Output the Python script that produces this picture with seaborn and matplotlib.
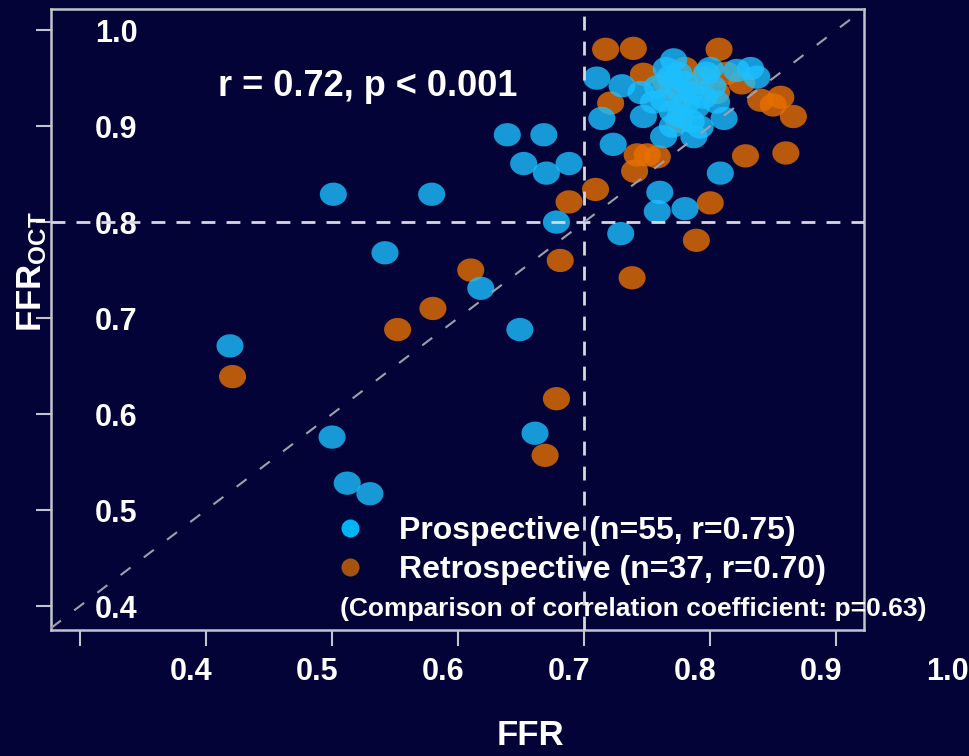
import numpy as np
import pandas as pd
import matplotlib
matplotlib.use("Agg")
import matplotlib.pyplot as plt
import seaborn as sns
from matplotlib.lines import Line2D
from matplotlib.path import Path
from matplotlib.transforms import ScaledTranslation

# ---------------- data ----------------
pro_ffr = [0.519, 0.600, 0.612, 0.630, 0.601, 0.679, 0.642, 0.718, 0.749, 0.761,
           0.739, 0.768, 0.752, 0.770, 0.788, 0.778, 0.829, 0.860, 0.858, 0.880,
           0.908, 0.814, 0.823, 0.810, 0.830, 0.847, 0.863, 0.887, 0.871, 0.932,
           0.937, 0.911, 0.858, 0.876, 0.863, 0.881, 0.897, 0.902, 0.921, 0.868,
           0.889, 0.876, 0.892, 0.870, 0.880, 0.855, 0.885, 0.895, 0.865, 0.875,
           0.905, 0.845, 0.870, 0.885, 0.900]
pro_oct = [0.671, 0.576, 0.528, 0.517, 0.829, 0.829, 0.768, 0.731, 0.688, 0.580,
           0.891, 0.891, 0.861, 0.851, 0.861, 0.800, 0.788, 0.831, 0.811, 0.814,
           0.851, 0.908, 0.881, 0.950, 0.942, 0.910, 0.889, 0.889, 0.969, 0.960,
           0.951, 0.908, 0.941, 0.937, 0.927, 0.924, 0.955, 0.941, 0.958, 0.951,
           0.920, 0.910, 0.899, 0.900, 0.945, 0.925, 0.935, 0.930, 0.960, 0.955,
           0.925, 0.935, 0.915, 0.905, 0.960]

retro_ffr = [0.521, 0.652, 0.680, 0.710, 0.781, 0.778, 0.769, 0.788, 0.809, 0.838,
             0.889, 0.900, 0.817, 0.839, 0.907, 0.847, 0.821, 0.842, 0.840, 0.858,
             0.928, 0.960, 0.940, 0.956, 0.966, 0.950, 0.913, 0.850, 0.875, 0.865,
             0.890, 0.905, 0.875, 0.870, 0.895, 0.925, 0.880]
retro_oct = [0.639, 0.688, 0.710, 0.750, 0.760, 0.616, 0.557, 0.821, 0.834, 0.742,
             0.781, 0.820, 0.980, 0.981, 0.980, 0.954, 0.924, 0.870, 0.853, 0.868,
             0.869, 0.872, 0.927, 0.930, 0.910, 0.922, 0.955, 0.870, 0.905, 0.945,
             0.945, 0.935, 0.925, 0.940, 0.950, 0.945, 0.960]

groups = ["Prospective", "Retrospective"]
legend_labels = ["Prospective (n=55, r=0.75)", "Retrospective (n=37, r=0.70)"]
tick_values = [0.4, 0.5, 0.6, 0.7, 0.8, 0.9, 1.0]
tick_labels = ["0.4", "0.5", "0.6", "0.7", "0.8", "0.9", "1.0"]
cutoff = 0.8
stat_text = "r = 0.72, p < 0.001"
comparison_text = "(Comparison of correlation coefficient: p=0.63)"
x_title = "FFR"
y_title = r"$\mathrm{FFR}_{\mathrm{OCT}}$"

# ---------------- style ----------------
BG = "#030337"
FRAME = "#c4c4cc"
colors = {"Prospective": "#1cc0ff", "Retrospective": "#e87000"}
legend_colors = {"Prospective": "#00b4f4", "Retrospective": "#a4540c"}

sns.set_theme(style="white")
plt.rcParams["font.family"] = ["Liberation Sans", "DejaVu Sans"]
plt.rcParams["font.weight"] = "bold"
plt.rcParams["mathtext.fontset"] = "custom"
plt.rcParams["mathtext.rm"] = "Liberation Sans:bold"
plt.rcParams["mathtext.bf"] = "Liberation Sans:bold"
plt.rcParams["mathtext.it"] = "Liberation Sans:bold"
plt.rcParams["mathtext.sf"] = "Liberation Sans:bold"

df = pd.DataFrame({
    "FFR": retro_ffr + pro_ffr,
    "FFR_OCT": retro_oct + pro_oct,
    "Group": ["Retrospective"] * len(retro_ffr) + ["Prospective"] * len(pro_ffr),
})

fig = plt.figure(figsize=(9.69, 7.56), dpi=100, facecolor=BG)
ax = fig.add_axes([51 / 969, 126 / 756, 813 / 969, 621 / 756])
ax.set_facecolor(BG)

theta = np.linspace(0, 2 * np.pi, 64)
ellipse = Path(np.column_stack([np.cos(theta), 0.86 * np.sin(theta)]), closed=True)

sns.scatterplot(data=df, x="FFR", y="FFR_OCT", hue="Group", palette=colors,
                marker=ellipse, s=380, alpha=0.8, linewidth=0, legend=False,
                ax=ax, zorder=2)

# reference lines
ax.axvline(cutoff, color="#d8d8dc", lw=2, ls=(0, (5, 4)), zorder=3)
ax.axhline(cutoff, color="#d8d8dc", lw=2, ls=(0, (5, 4)), zorder=3)
ax.axline((0, 0), slope=1, color="#a0a0ac", lw=1.5, ls=(0, (6, 8)), zorder=3)

ax.set_xlim(0.377, 1.022)
ax.set_ylim(0.375, 1.022)

for sp in ax.spines.values():
    sp.set_visible(True)
    sp.set_color(FRAME)
    sp.set_linewidth(1.8)

ax.set_xticks(tick_values)
ax.set_xticklabels(tick_labels)
ax.set_yticks(tick_values)
ax.set_yticklabels(tick_labels)
ax.tick_params(axis="both", which="major", direction="out", color=FRAME,
               width=1.5, labelcolor="white", labelsize=22)
ax.tick_params(axis="x", length=11.5, pad=8, bottom=True, top=False)
ax.tick_params(axis="y", length=10.8, pad=-73, left=True, right=False)
for lbl in ax.get_xticklabels() + ax.get_yticklabels():
    lbl.set_fontweight("bold")

ax.set_xlabel(x_title, color="white", fontsize=25, fontweight="bold")
ax.xaxis.set_label_coords((530 - 51) / 813, (630 - 719) / 621)
ax.set_ylabel(y_title, color="white", fontsize=25)
ax.yaxis.set_label_coords(-0.002, (630 - 272) / 621)

ax.text((218 - 51) / 813, (630 - 87) / 621, stat_text, transform=ax.transAxes,
        ha="left", va="center", color="white", fontsize=26, fontweight="bold")

handles = [Line2D([], [], ls="", marker="o", markersize=13, markeredgewidth=0,
                  markerfacecolor=legend_colors[g]) for g in groups]
leg = ax.legend(handles, legend_labels, loc="center left",
                bbox_to_anchor=((334 - 51) / 813, (630 - 550.5) / 621),
                frameon=False, fontsize=23, handlelength=1.0, handletextpad=1.05,
                labelspacing=0.3, borderpad=0, borderaxespad=0)
for t in leg.get_texts():
    t.set_color("white")
    t.set_fontweight("bold")

ax.text((340 - 51) / 813, (630 - 609) / 621, comparison_text, transform=ax.transAxes,
        ha="left", va="center", color="white", fontsize=19, fontweight="bold")

# tick labels in the reference sit shifted to the right of their tick marks
shift = ScaledTranslation(1.11, 0, fig.dpi_scale_trans)
for lbl in ax.get_xticklabels():
    lbl.set_transform(lbl.get_transform() + shift)

fig.savefig("out.png", dpi=100, facecolor=BG)
